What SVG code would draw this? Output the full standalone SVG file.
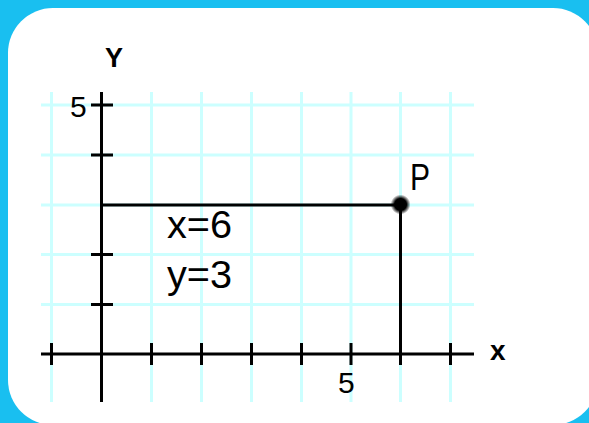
<svg xmlns="http://www.w3.org/2000/svg" width="589" height="423" viewBox="0 0 589 423">
<style>
.grid{stroke:#CCFFFF;stroke-width:3;fill:none}
.ax{stroke:#000;stroke-width:3;fill:none}
.lbl{font-family:"Liberation Sans",Arial,sans-serif;fill:#000}
.b{font-weight:bold}
</style>
<defs>
<radialGradient id="dot" cx="0.5" cy="0.5" r="0.5">
<stop offset="0" stop-color="#000" stop-opacity="1"/>
<stop offset="0.6" stop-color="#000" stop-opacity="1"/>
<stop offset="1" stop-color="#000" stop-opacity="0"/>
</radialGradient>
</defs>
<rect x="0" y="0" width="589" height="423" fill="#19BFF0"/>
<rect x="8" y="8" width="590" height="417" rx="45" ry="45" fill="#FFFFFF"/>
<g id="grid" class="grid">
<path d="M51.5 92V402M151.5 92V402M201.5 92V402M251.5 92V402M301.5 92V402M351 92V402M400.5 92V402M450.5 92V402"/>
<path d="M41 105H474M41 155H474M41 205H474M41 254.5H474M41 304.5H474"/>
</g>
<g id="connectors" class="ax">
<path d="M101.5 92V402"/>
<path d="M41 354H474"/>
<path d="M91 105H113M91 155H113M91 254.5H113M91 304.5H113"/>
<path d="M51.5 343V365M151.5 343V365M201.5 343V365M251.5 343V365M301.5 343V365M351 343V365M450.5 343V365"/>
<path d="M101.5 205H400.5V365"/>
</g>
<g id="point-P">
<circle cx="400.5" cy="204.5" r="10" fill="url(#dot)"/>
<text class="lbl" x="410" y="190" font-size="37" textLength="20" lengthAdjust="spacingAndGlyphs">P</text>
</g>
<g id="labels">
<text class="lbl b" x="114" y="67" font-size="27" text-anchor="middle">Y</text>
<text class="lbl b" x="490" y="360" font-size="28">x</text>
<text class="lbl" x="70" y="116.5" font-size="30">5</text>
<text class="lbl" x="338" y="392.5" font-size="30">5</text>
<text class="lbl" x="167" y="238" font-size="39" textLength="65" lengthAdjust="spacingAndGlyphs">x=6</text>
<text class="lbl" x="167" y="288" font-size="39" textLength="65" lengthAdjust="spacingAndGlyphs">y=3</text>
</g>
</svg>
